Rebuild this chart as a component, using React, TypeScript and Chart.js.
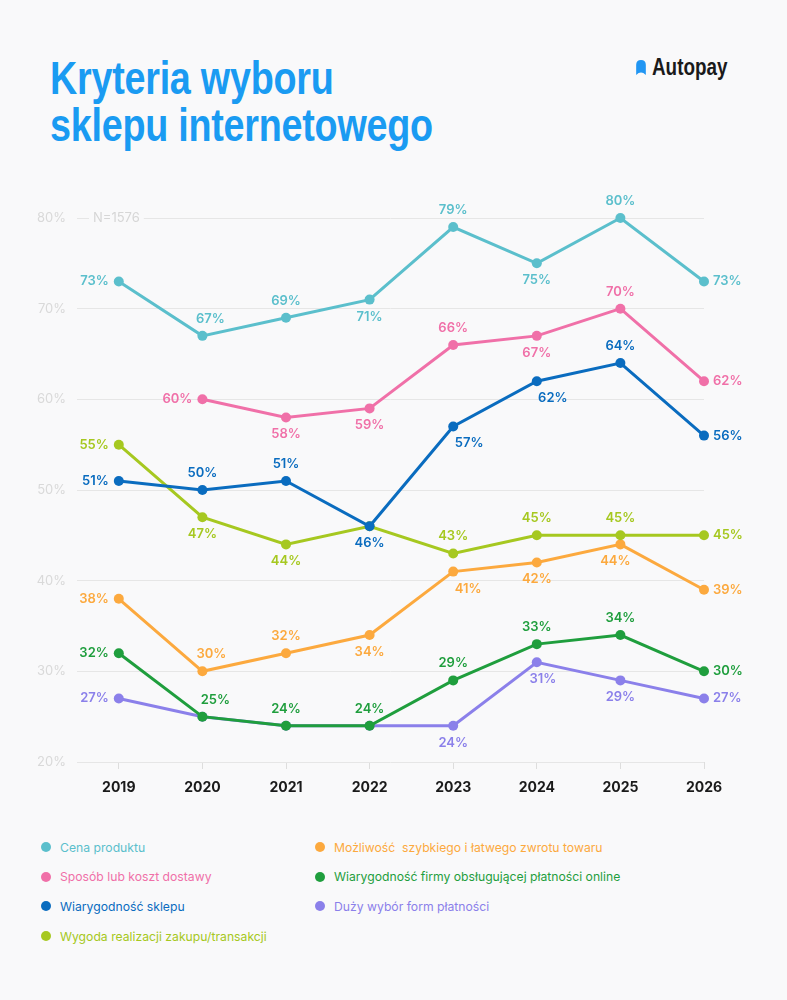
import React, { useEffect, useRef } from "react";
import { Chart, registerables } from "chart.js";

Chart.register(...registerables);

const YEARS = [2019, 2020, 2021, 2022, 2023, 2024, 2025, 2026];
const Y_TICKS = [20, 30, 40, 50, 60, 70, 80];
const SAMPLE_NOTE = "N=1576";

const CENA = [73, 67, 69, 71, 79, 75, 80, 73];
const DOSTAWA = [null, 60, 58, 59, 66, 67, 70, 62];
const SKLEP = [51, 50, 51, 46, 57, 62, 64, 56];
const WYGODA = [55, 47, 44, 46, 43, 45, 45, 45];
const ZWROT = [38, 30, 32, 34, 41, 42, 44, 39];
const FIRMA = [32, 25, 24, 24, 29, 33, 34, 30];
const WYBOR = [27, 25, 24, 24, 24, 31, 29, 27];

const SERIES_NAMES = [
  "Cena produktu",
  "Sposób lub koszt dostawy",
  "Wiarygodność sklepu",
  "Wygoda realizacji zakupu/transakcji",
  "Możliwość  szybkiego i łatwego zwrotu towaru",
  "Wiarygodność firmy obsługującej płatności online",
  "Duży wybór form płatności",
];
const SERIES_VALUES = [CENA, DOSTAWA, SKLEP, WYGODA, ZWROT, FIRMA, WYBOR];
const COLORS = ["#5bbfcc", "#f070a8", "#0a6cbf", "#a6c820", "#fca93e", "#1f9e3d", "#8b80ea"];

// label placement per point: [position, dx]  a=above b=below l=left r=right n=none
const PLACE: [string, number][][] = [
  [["l", 0], ["a", 8], ["a", 0], ["b", 0], ["a", 0], ["b", 0], ["a", 0], ["r", 0]],
  [["n", 0], ["l", 0], ["b", 0], ["b", 0], ["a", 0], ["b", 0], ["a", 0], ["r", 0]],
  [["l", 0], ["a", 0], ["a", 0], ["b", 0], ["b", 16], ["b", 16], ["a", 0], ["r", 0]],
  [["l", 0], ["b", 0], ["b", 0], ["n", 0], ["a", 0], ["a", 0], ["a", 0], ["r", 0]],
  [["l", 0], ["a", 9], ["a", 0], ["b", 0], ["b", 15], ["b", 0], ["b", -5], ["r", 0]],
  [["l", 0], ["a", 13], ["a", 0], ["a", 0], ["a", 0], ["a", 0], ["a", 0], ["r", 0]],
  [["l", 0], ["n", 0], ["n", 0], ["n", 0], ["b", 0], ["b", 6], ["b", 0], ["r", 0]],
];

const BG = "#f9f9fa";
const FONT = "Inter, 'Noto Sans', sans-serif";

const labelPlugin = {
  id: "pointLabels",
  afterDatasetsDraw(chart: any) {
    const ctx = chart.ctx;
    ctx.save();
    ctx.font = `600 13px ${FONT}`;
    ctx.textBaseline = "middle";
    chart.data.datasets.forEach((ds: any, di: number) => {
      const meta = chart.getDatasetMeta(di);
      meta.data.forEach((pt: any, i: number) => {
        const v = SERIES_VALUES[di][i];
        if (v === null || v === undefined) return;
        const [pos, dx] = PLACE[di][i];
        if (pos === "n") return;
        const text = `${v}%`;
        ctx.fillStyle = COLORS[di];
        let x = pt.x + dx;
        let y = pt.y;
        if (pos === "a") {
          ctx.textAlign = "center";
          y -= 17;
        } else if (pos === "b") {
          ctx.textAlign = "center";
          y += 17;
        } else if (pos === "l") {
          ctx.textAlign = "right";
          x = pt.x - 10;
        } else {
          ctx.textAlign = "left";
          x = pt.x + 9;
        }
        ctx.fillText(text, x, y);
      });
    });
    ctx.restore();
  },
};

const notePlugin = {
  id: "sampleNote",
  beforeDatasetsDraw(chart: any) {
    const ctx = chart.ctx;
    const yScale = chart.scales.y;
    const y = yScale.getPixelForValue(80);
    const left = chart.chartArea.left;
    ctx.save();
    ctx.font = `400 13px ${FONT}`;
    const w = ctx.measureText(SAMPLE_NOTE).width;
    ctx.fillStyle = BG;
    ctx.fillRect(left + 12, y - 8, w + 8, 16);
    ctx.fillStyle = "#d6d6d6";
    ctx.textBaseline = "middle";
    ctx.textAlign = "left";
    ctx.fillText(SAMPLE_NOTE, left + 16, y);
    ctx.restore();
  },
};

export default function App() {
  const ref = useRef<HTMLCanvasElement | null>(null);

  useEffect(() => {
    document.body.style.margin = "0";
    if (!ref.current) return;
    const chart = new Chart(ref.current, {
      type: "line",
      data: {
        datasets: SERIES_VALUES.map((vals, di) => ({
          label: SERIES_NAMES[di],
          data: vals.map((v, i) => ({ x: YEARS[i], y: v })),
          borderColor: COLORS[di],
          backgroundColor: COLORS[di],
          pointBackgroundColor: COLORS[di],
          pointBorderWidth: 0,
          pointRadius: 5,
          pointHoverRadius: 5,
          borderWidth: 3,
          tension: 0,
          clip: false as any,
        })) as any,
      },
      options: {
        animation: false,
        responsive: true,
        maintainAspectRatio: false,
        layout: { padding: { top: 38, right: 83, left: 0, bottom: 0 } },
        plugins: {
          legend: { display: false },
          tooltip: { enabled: false },
        },
        events: [],
        scales: {
          x: {
            type: "linear",
            min: 2018.5,
            max: 2026,
            afterBuildTicks: (s: any) => {
              s.ticks = YEARS.map((value) => ({ value }));
            },
            afterFit: (s: any) => {
              s.height = 48;
            },
            ticks: {
              autoSkip: false,
              maxRotation: 0,
              padding: 10,
              color: "#1a1a1a",
              font: { family: FONT, size: 14, weight: 700 } as any,
              callback: (v: any) => String(v),
            },
            grid: {
              drawOnChartArea: false,
              drawTicks: true,
              tickLength: 7,
              color: "#dddddd",
            },
            border: { display: false },
          },
          y: {
            min: 20,
            max: 80,
            afterBuildTicks: (s: any) => {
              s.ticks = Y_TICKS.map((value) => ({ value }));
            },
            afterFit: (s: any) => {
              s.width = 77;
            },
            ticks: {
              padding: 11,
              color: "#d9d9d9",
              font: { family: FONT, size: 13, weight: 400 } as any,
              callback: (v: any) => `${v}%`,
            },
            grid: { color: "#e6e6e6", drawTicks: false, lineWidth: 1 },
            border: { display: false },
          },
        },
      },
      plugins: [notePlugin, labelPlugin],
    });
    return () => chart.destroy();
  }, []);

  const col1 = [0, 1, 2, 3];
  const col2 = [4, 5, 6];
  const legendItem = (i: number, x: number, row: number) => (
    <div
      key={i}
      style={{
        position: "absolute",
        left: x - 5,
        top: 847 + row * 29.7 - 10,
        height: 20,
        display: "flex",
        alignItems: "center",
        whiteSpace: "nowrap",
      }}
    >
      <span
        style={{
          width: 10,
          height: 10,
          borderRadius: 5,
          background: COLORS[i],
          display: "inline-block",
          marginRight: 9,
        }}
      />
      <span style={{ color: COLORS[i], fontFamily: FONT, fontSize: 12.2, whiteSpace: "pre" }}>
        {SERIES_NAMES[i]}
      </span>
    </div>
  );

  return (
    <div
      style={{
        position: "absolute",
        left: 0,
        top: 0,
        width: 787,
        height: 1000,
        background: BG,
        overflow: "hidden",
      }}
    >
      <div
        style={{
          position: "absolute",
          left: 50,
          top: 55,
          fontFamily: "'Liberation Sans', Arial, sans-serif",
          fontWeight: 700,
          fontSize: 46,
          lineHeight: "47px",
          color: "#1a9bf2",
          transform: "scaleX(0.82)",
          transformOrigin: "left top",
          whiteSpace: "nowrap",
          letterSpacing: "-0.3px",
        }}
      >
        <div>Kryteria wyboru</div>
        <div>sklepu internetowego</div>
      </div>
      <div
        style={{
          position: "absolute",
          left: 636,
          top: 54,
          display: "flex",
          alignItems: "center",
        }}
      >
        <svg width="10" height="15" viewBox="0 0 9 14" style={{ marginRight: 6 }}>
          <path d="M0 14 V4.5 Q0 0 4.5 0 Q9 0 9 4.5 V14 Q4.5 9.5 0 14 Z" fill="#2196f3" />
        </svg>
        <span
          style={{
            fontFamily: "'Liberation Sans', Arial, sans-serif",
            fontWeight: 700,
            fontSize: 23,
            color: "#1a1a1a",
            display: "inline-block",
            transform: "scaleX(0.82)",
            transformOrigin: "left center",
            lineHeight: "26px",
          }}
        >
          Autopay
        </span>
      </div>
      <div style={{ position: "absolute", left: 0, top: 180, width: 787, height: 630 }}>
        <canvas ref={ref} />
      </div>
      {col1.map((i, r) => legendItem(i, 46, r))}
      {col2.map((i, r) => legendItem(i, 320, r))}
    </div>
  );
}
